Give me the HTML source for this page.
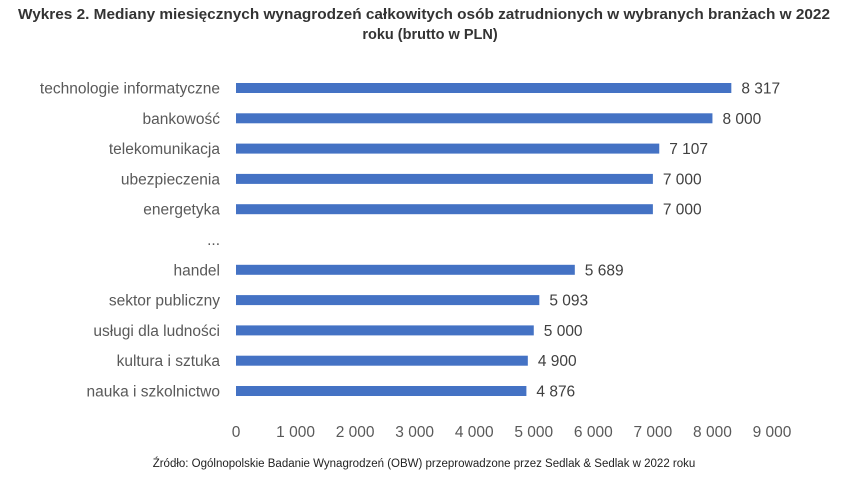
<!DOCTYPE html>
<html><head><meta charset="utf-8"><style>
body{margin:0;background:#fff;width:861px;height:480px;overflow:hidden;font-family:"Liberation Sans",sans-serif}
</style></head><body>
<svg width="861" height="480" xmlns="http://www.w3.org/2000/svg">
<text x="424" y="19" text-anchor="middle" font-size="14.5" font-weight="bold" fill="#333" textLength="812" lengthAdjust="spacingAndGlyphs">Wykres 2. Mediany miesięcznych wynagrodzeń całkowitych osób zatrudnionych w wybranych branżach w 2022</text>
<text x="430" y="39" text-anchor="middle" font-size="14.5" font-weight="bold" fill="#333">roku (brutto w PLN)</text>
<g id="bars"></g>
<g id="xticks"></g>
<text x="424" y="467" text-anchor="middle" font-size="11.5" fill="#222">Źródło: Ogólnopolskie Badanie Wynagrodzeń (OBW) przeprowadzone przez Sedlak &amp; Sedlak w 2022 roku</text>
</svg>
<script>
const categories=["technologie informatyczne","bankowość","telekomunikacja","ubezpieczenia","energetyka","...","handel","sektor publiczny","usługi dla ludności","kultura i sztuka","nauka i szkolnictwo"];
const values=[8317,8000,7107,7000,7000,null,5689,5093,5000,4900,4876];
const valueLabels=["8 317","8 000","7 107","7 000","7 000","","5 689","5 093","5 000","4 900","4 876"];
const tickValues=[0,1000,2000,3000,4000,5000,6000,7000,8000,9000];
const tickLabels=["0","1 000","2 000","3 000","4 000","5 000","6 000","7 000","8 000","9 000"];
const NS="http://www.w3.org/2000/svg";
const x0=236,x1=772,xmax=9000;
const xs=v=>x0+(x1-x0)*v/xmax;
const yTop=88,step=30.3;
const ys=i=>yTop+i*step;
const bars=document.getElementById('bars');
function mk(tag,attrs,txt){const e=document.createElementNS(NS,tag);for(const k in attrs)e.setAttribute(k,attrs[k]);if(txt!=null)e.textContent=txt;return e;}
categories.forEach((c,i)=>{
  const y=ys(i);
  const l=mk('text',{x:220,y:y+5.5,'text-anchor':'end','font-size':'15.5',fill:'#595959'},c);
  
  
  bars.appendChild(l);
  if(values[i]!=null){
    const r=mk('rect',{x:x0,y:y-5,width:xs(values[i])-x0,height:10,fill:'#4472C4'});
    
    
    bars.appendChild(r);
    const t=mk('text',{x:xs(values[i])+10,y:y+5.5,'font-size':'15.5',fill:'#404040'},valueLabels[i]);
    
    
    bars.appendChild(t);
  }
});
const xt=document.getElementById('xticks');
tickValues.forEach((v,i)=>{
  const t=mk('text',{x:xs(v),y:437,'text-anchor':'middle','font-size':'15.5',fill:'#595959'},tickLabels[i]);
  
  
  xt.appendChild(t);
});
</script>
</body></html>
